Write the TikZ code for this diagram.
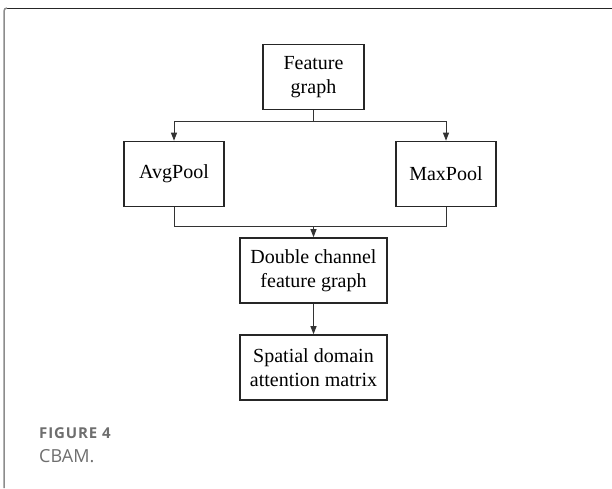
\documentclass[tikz,border=0pt]{standalone}
\usepackage{fontspec}
\setmainfont{Liberation Serif}
\newfontfamily\capfont{Open Sans}
\newfontfamily\capnumfont[LetterSpace=6]{Open Sans}
\usetikzlibrary{arrows.meta}

\definecolor{framegray}{RGB}{140,140,140}
\definecolor{captiongray}{RGB}{110,110,110}

\tikzset{
  block/.style={draw=black!85, line width=1.6pt, align=center,
    inner sep=0pt, minimum height=65pt,
    font=\fontsize{20}{24}\selectfont},
  link/.style={line width=1pt, black!80},
  arrowlink/.style={link, -{Triangle[length=8pt,width=6pt]}}
}

\begin{document}
\begin{tikzpicture}[x=1pt, y=-1pt]

  \useasboundingbox (0,0) rectangle (612,488);

  % -- Page frame --
  \draw[line width=1pt, black!85] (7,8) -- (612,8);
  \draw[line width=1.5pt, framegray] (4,488) -- (4,11) arc (180:270:3);

  % -- Blocks --
  \node[block, minimum width=100.5pt] (feat) at (313.5,77) {Feature\\graph};
  \node[block, minimum width=100pt] (avg) at (174,174) {AvgPool};
  \node[block, minimum width=100pt] (max) at (446,174) {MaxPool};
  \node[block, minimum width=147pt] (dbl) at (313.5,270.5) {Double channel\\feature graph};
  \node[block, minimum width=147pt] (spat) at (313.5,367.5) {Spatial domain\\attention matrix};

  % -- Split and merge points --
  \coordinate (split) at (313.5,121.7);
  \coordinate (join) at (313.5,226);

  % -- Connectors --
  \draw[link] (feat) -- (split);
  \draw[arrowlink] (split) -| (avg);
  \draw[arrowlink] (split) -| (max);
  \draw[link] (avg) |- (join);
  \draw[link] (max) |- (join);
  \draw[arrowlink] (join) -- (dbl);
  \draw[arrowlink] (dbl) -- (spat);

  % -- Caption --
  \node[anchor=base west, inner sep=0pt, text=captiongray,
    font=\capnumfont\bfseries\fontsize{15}{18}\selectfont] (capnum) at (39,438.5) {FIGURE 4};
  \node[anchor=base west, inner sep=0pt, text=captiongray,
    font=\capfont\fontsize{18}{22}\selectfont] (captext) at (39,462) {CBAM.};

\end{tikzpicture}
\end{document}
